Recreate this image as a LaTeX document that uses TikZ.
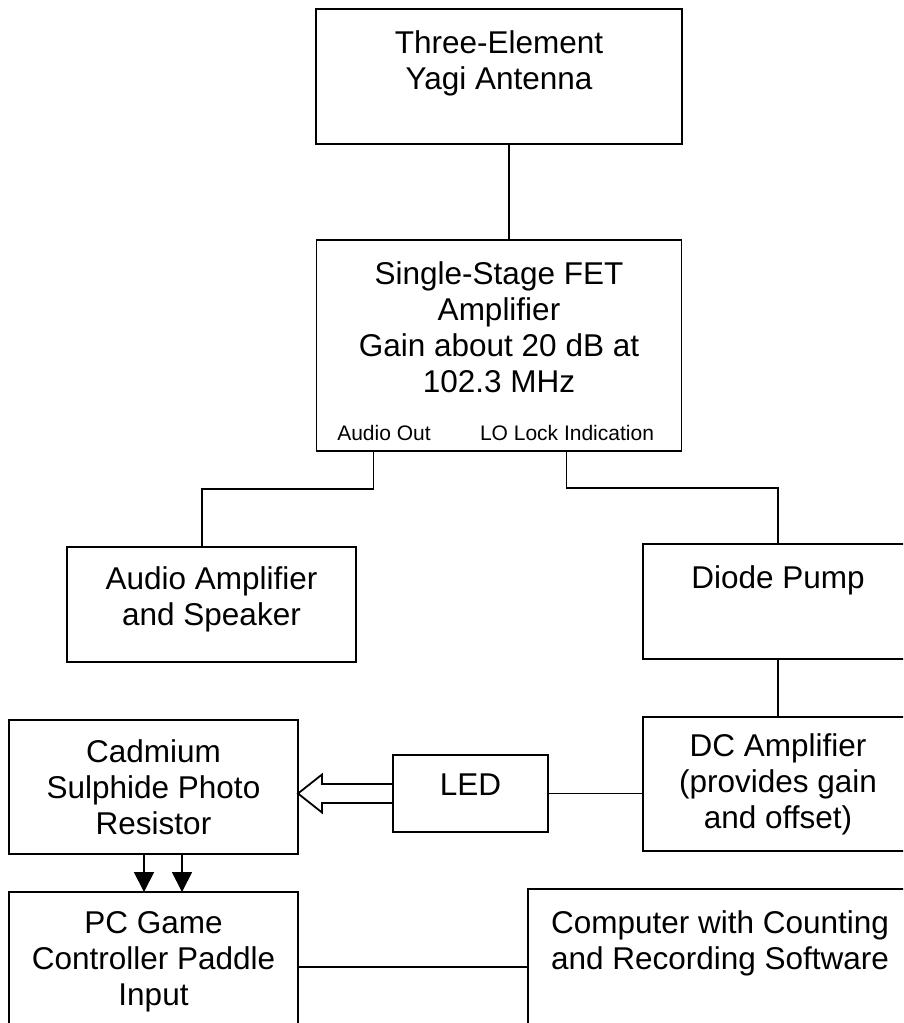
\documentclass[tikz,border=0pt]{standalone}
\usepackage{fontspec}
\setmainfont{Liberation Sans}
\usetikzlibrary{arrows.meta, positioning}

\begin{document}
\begin{tikzpicture}[
    x=1pt, y=-1pt,
    box/.style={rectangle, draw=black, line width=1.8pt, inner sep=0pt, outer sep=0pt},
    txt/.style={align=center, inner sep=0pt, font=\fontsize{31.5}{36}\selectfont},
    small/.style={inner sep=0pt, font=\fontsize{21}{24}\selectfont},
    wire/.style={line width=1.8pt},
    arrow/.style={wire, -{Triangle[length=20pt, width=20pt]}}
]
\clip (0,0) rectangle (903,1023);

% Boxes
\node[box, minimum width=366pt, minimum height=135pt] (yagi) at (499,76.5) {};
\node[box, minimum width=365pt, minimum height=211pt, below=96pt of yagi] (fet) {};
\node[box, minimum width=289pt, minimum height=115pt] (audio) at (211.5,604.5) {};
\node[box, minimum width=270pt, minimum height=115pt] (diode) at (778,601.5) {};
\node[box, minimum width=270pt, minimum height=134pt, below=58pt of diode] (dc) {};
\node[box, minimum width=155pt, minimum height=77pt] (led) at (470.5,793.5) {};
\node[box, minimum width=289pt, minimum height=134pt] (cds) at (153.5,787) {};
\node[box, minimum width=289pt, minimum height=150pt, below=38pt of cds] (pc) {};
\node[box, minimum width=384pt, minimum height=156pt] (comp) at (720,967) {};

% Texts
\node[txt] (yagitxt) at ([yshift=13.5pt]yagi) {Three-Element\\Yagi Antenna};
\node[txt] (fettxt) at ([yshift=18.5pt]fet) {Single-Stage FET\\Amplifier\\Gain about 20 dB at\\102.3 MHz};
\node[small, anchor=base] (audioout) at (384,440) {Audio Out};
\node[small, anchor=base] (lolock) at (567,440) {LO Lock Indication};
\node[txt] (audiotxt) at ([yshift=5.5pt]audio) {Audio Amplifier\\and Speaker};
\node[txt] (diodetxt) at ([yshift=21.5pt]diode) {Diode Pump};
\node[txt] (dctxt) at (dc) {DC Amplifier\\(provides gain\\and offset)};
\node[txt] (ledtxt) at ([yshift=8.5pt]led) {LED};
\node[txt] (cdstxt) at (cds) {Cadmium\\Sulphide Photo\\Resistor};
\node[txt] (pctxt) at ([yshift=5pt]pc) {PC Game\\Controller Paddle\\Input};
\node[txt] (comptxt) at ([yshift=24pt]comp) {Computer with Counting\\and Recording Software};

% Connectors
\draw[wire] ([xshift=10pt]yagi.south) -- ([xshift=10pt]fet.north);
\draw[wire] ([xshift=-125.5pt]fet.south) -- ++(0,38) -| ([xshift=-9.5pt]audio.north);
\draw[wire] ([xshift=67.5pt]fet.south) -- ++(0,37) -| (diode.north);
\draw[wire] (diode) -- (dc);
\draw[wire] (led.east) -- (dc.west |- led.east);
\draw[wire] (pc) -- (comp);

% Light from LED
\coordinate (tip) at (cds.east |- led.west);
\draw[wire, line join=miter] ([yshift=9.5pt]led.west) -- ([shift={(24,-9.5)}]tip)
    -- ([shift={(24,-19)}]tip) -- (tip) -- ([shift={(24,19)}]tip)
    -- ([shift={(24,9.5)}]tip) -- ([yshift=-9.5pt]led.west);

% Photo resistor leads
\coordinate (cdsA) at ([xshift=-9.5pt]cds.south);
\coordinate (cdsB) at ([xshift=28.5pt]cds.south);
\draw[arrow] (cdsA) -- (cdsA |- pc.north);
\draw[arrow] (cdsB) -- (cdsB |- pc.north);

\end{tikzpicture}
\end{document}
